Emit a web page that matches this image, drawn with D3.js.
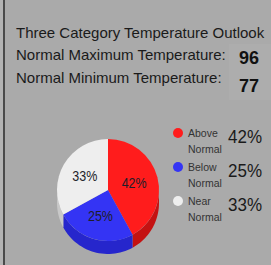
<!DOCTYPE html>
<meta charset="utf-8">
<style>
body { margin: 0; background: #aaaaaa; }
svg { display: block; font-family: "Liberation Sans", Arial, sans-serif; }
</style>
<script src="https://cdn.jsdelivr.net/npm/d3@7"></script>
<body>
<div id="chart"></div>
<script>
// outlook data
var title = "Three Category Temperature Outlook";
var normalLabels = ["Normal Maximum Temperature:", "Normal Minimum Temperature:"];
var normalValues = [96, 77];

var categories = ["Above", "Below", "Near"];
var percents = [42, 25, 33];
var faceColors = ["#ff1c1c", "#3434f4", "#eeeeee"];
var sideColors = ["#c41212", "#2626cc", "#c8c8c8"];

var W = 271, H = 265;
var svg = d3.select("#chart").append("svg")
    .attr("width", W).attr("height", H);

svg.append("rect").attr("width", W).attr("height", H).attr("fill", "#aaaaaa");
svg.append("rect").attr("x", 0).attr("y", 0).attr("width", 3).attr("height", H).attr("fill", "#b3b3b3");
svg.append("rect").attr("x", 3).attr("y", 0).attr("width", 2).attr("height", H).attr("fill", "#4a4a4a");

// header
svg.append("text")
    .attr("x", 16).attr("y", 38)
    .attr("font-size", 15).attr("fill", "#1a1a1a")
    .text(title);

svg.append("rect")
    .attr("x", 229).attr("y", 44).attr("width", 42).attr("height", 56)
    .attr("fill", "#adadad");

svg.selectAll(".nlab").data(normalLabels).enter().append("text")
    .attr("class", "nlab")
    .attr("x", 16).attr("y", function(d, i) { return 60 + i * 23; })
    .attr("font-size", 15).attr("fill", "#1a1a1a")
    .text(function(d) { return d; });

svg.selectAll(".nval").data(normalValues).enter().append("text")
    .attr("class", "nval")
    .attr("x", 239).attr("y", function(d, i) { return 64 + i * 28; })
    .attr("font-size", 18).attr("font-weight", "bold").attr("fill", "#111")
    .text(function(d) { return d; });

// pie
var cx = 108, cy = 190, r = 51, depth = 13;
var pie = d3.pie().sort(null).value(function(d) { return d; });
var arcs = pie(percents);
var arc = d3.arc().innerRadius(0).outerRadius(r);
var labelArc = d3.arc().innerRadius(27).outerRadius(27);

var g = svg.append("g").attr("transform", "translate(" + cx + "," + cy + ")");

// side walls for the lower half (angles between pi/2 and 3pi/2)
function sidePath(a0, a1) {
  var s = Math.max(a0, Math.PI / 2), e = Math.min(a1, 3 * Math.PI / 2);
  if (e <= s) return null;
  var p = d3.path();
  var n = 30;
  for (var i = 0; i <= n; i++) {
    var a = s + (e - s) * i / n;
    var x = r * Math.sin(a), y = -r * Math.cos(a);
    if (i === 0) p.moveTo(x, y); else p.lineTo(x, y);
  }
  for (var j = n; j >= 0; j--) {
    var b = s + (e - s) * j / n;
    p.lineTo(r * Math.sin(b), -r * Math.cos(b) + depth);
  }
  p.closePath();
  return p.toString();
}

g.selectAll(".side").data(arcs).enter().append("path")
    .attr("class", "side")
    .attr("d", function(d) { return sidePath(d.startAngle, d.endAngle); })
    .attr("fill", function(d, i) { return sideColors[i]; });

g.selectAll(".face").data(arcs).enter().append("path")
    .attr("class", "face")
    .attr("d", arc)
    .attr("fill", function(d, i) { return faceColors[i]; });

g.selectAll(".plab").data(arcs).enter().append("text")
    .attr("class", "plab")
    .attr("transform", function(d) { return "translate(" + labelArc.centroid(d) + ")"; })
    .attr("text-anchor", "middle").attr("dy", "0.36em")
    .attr("font-size", 14).attr("fill", "#1e1e2a")
    .attr("textLength", 25).attr("lengthAdjust", "spacingAndGlyphs")
    .text(function(d) { return d.data + "%"; });

// legend
var legend = svg.selectAll(".leg").data(categories).enter().append("g")
    .attr("class", "leg")
    .attr("transform", function(d, i) { return "translate(178," + (133 + i * 34) + ")"; });

legend.append("circle").attr("r", 5)
    .attr("fill", function(d, i) { return faceColors[i]; });

legend.append("text")
    .attr("x", 10).attr("y", 4)
    .attr("font-size", 10.5).attr("fill", "#333")
    .text(function(d) { return d; });

legend.append("text")
    .attr("x", 10).attr("y", 20)
    .attr("font-size", 10.5).attr("fill", "#333")
    .text("Normal");

legend.append("text")
    .attr("x", 50).attr("y", 10)
    .attr("font-size", 19).attr("fill", "#1a1a1a")
    .attr("textLength", 34).attr("lengthAdjust", "spacingAndGlyphs")
    .text(function(d, i) { return percents[i] + "%"; });
</script>
</body>
